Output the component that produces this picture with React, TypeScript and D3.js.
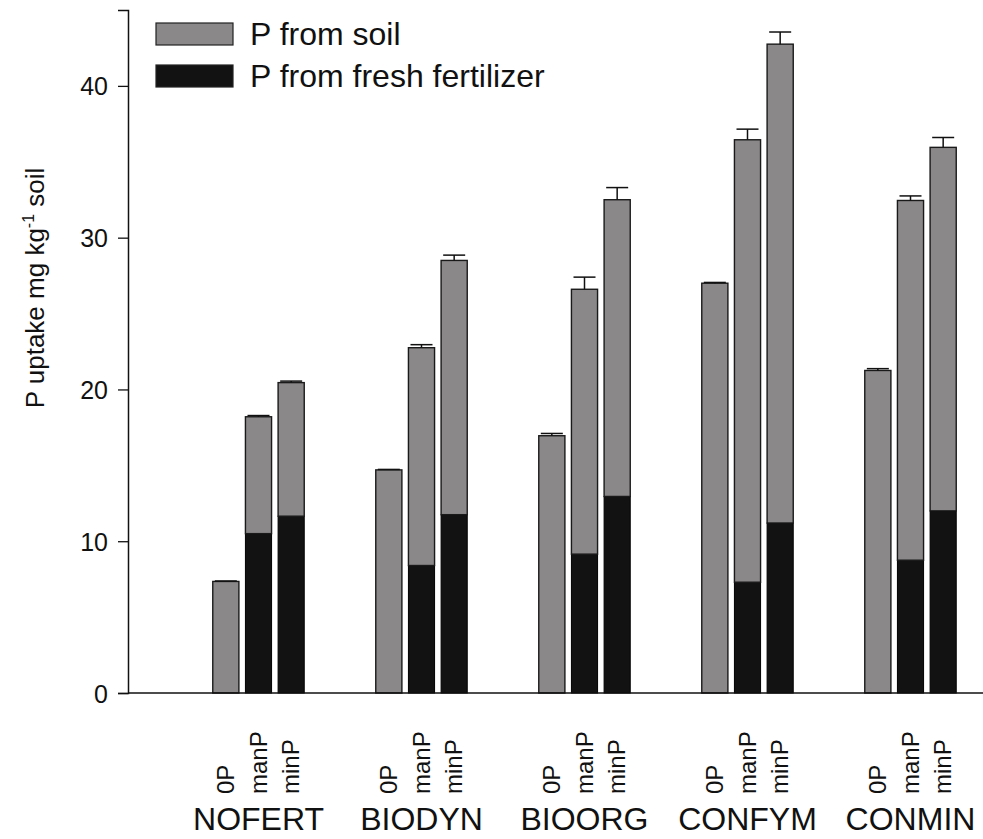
import React, { useEffect, useRef } from 'react';
import * as d3 from 'd3';

const groups = ['NOFERT', 'BIODYN', 'BIOORG', 'CONFYM', 'CONMIN'];
const treatments = ['0P', 'manP', 'minP'];

// P from fresh fertilizer (black, bottom segment), per group: [0P, manP, minP]
const pFresh = [
  [0, 10.5, 11.65],
  [0, 8.4, 11.75],
  [0, 9.15, 12.95],
  [0, 7.3, 11.2],
  [0, 8.75, 12.0],
];

// P from soil (grey, top segment)
const pSoil = [
  [7.35, 7.7, 8.8],
  [14.7, 14.35, 16.75],
  [16.95, 17.45, 19.55],
  [27.0, 29.15, 31.55],
  [21.25, 23.7, 23.95],
];

// standard error on the total
const errTotal = [
  [0.03, 0.08, 0.1],
  [0.03, 0.2, 0.35],
  [0.15, 0.8, 0.8],
  [0.05, 0.7, 0.8],
  [0.12, 0.3, 0.65],
];

const yTicks = [0, 10, 20, 30, 40];

const App: React.FC = () => {
  const chartRef = useRef<SVGSVGElement>(null);

  useEffect(() => {
    const svg = d3.select(chartRef.current!);
    svg.selectAll('*').remove();

    const font = "'Liberation Sans', Arial, Helvetica, sans-serif";
    const greyFill = '#8b8889';
    const blackFill = '#121212';
    const ink = '#111';

    const left = 128;
    const right = 983;
    const bottom = 693;

    const y = d3.scaleLinear().domain([0, 45]).range([bottom, 10]);
    const x0 = d3.scaleBand<string>().domain(groups).range([177, 992]);
    const x1 = d3
      .scaleBand<string>()
      .domain(treatments)
      .range([32.5, 130.5])
      .paddingInner(0.2)
      .paddingOuter(0.1);
    const bw = x1.bandwidth();

    const rows = groups.flatMap((g, gi) =>
      treatments.map((t, ti) => ({
        g,
        t,
        fresh: pFresh[gi][ti],
        soil: pSoil[gi][ti],
        err: errTotal[gi][ti],
      }))
    );
    const bx = (d: { g: string; t: string }) => x0(d.g)! + x1(d.t)!;

    // bars
    const bars = svg.append('g');
    bars
      .selectAll('rect.fresh')
      .data(rows.filter((d) => d.fresh > 0))
      .enter()
      .append('rect')
      .attr('class', 'fresh')
      .attr('x', bx)
      .attr('y', (d) => y(d.fresh))
      .attr('width', bw)
      .attr('height', (d) => y(0) - y(d.fresh))
      .attr('fill', blackFill)
      .attr('stroke', '#000')
      .attr('stroke-width', 1);

    bars
      .selectAll('rect.soil')
      .data(rows)
      .enter()
      .append('rect')
      .attr('class', 'soil')
      .attr('x', bx)
      .attr('y', (d) => y(d.fresh + d.soil))
      .attr('width', bw)
      .attr('height', (d) => y(d.fresh) - y(d.fresh + d.soil))
      .attr('fill', greyFill)
      .attr('stroke', '#1a1a1a')
      .attr('stroke-width', 1.4);

    // error bars (upper only)
    const eb = svg.append('g').attr('stroke', ink).attr('stroke-width', 1.5);
    eb.selectAll('line.v')
      .data(rows)
      .enter()
      .append('line')
      .attr('x1', (d) => bx(d) + bw / 2)
      .attr('x2', (d) => bx(d) + bw / 2)
      .attr('y1', (d) => y(d.fresh + d.soil))
      .attr('y2', (d) => y(d.fresh + d.soil + d.err));
    eb.selectAll('line.cap')
      .data(rows)
      .enter()
      .append('line')
      .attr('x1', (d) => bx(d) + bw / 2 - 11)
      .attr('x2', (d) => bx(d) + bw / 2 + 11)
      .attr('y1', (d) => y(d.fresh + d.soil + d.err))
      .attr('y2', (d) => y(d.fresh + d.soil + d.err));

    // y axis
    const yAxis = svg
      .append('g')
      .attr('transform', `translate(${left},0)`)
      .call(d3.axisLeft(y).tickValues(yTicks).tickSize(10).tickPadding(10));
    yAxis.select('.domain').attr('stroke', ink).attr('stroke-width', 1.5);
    yAxis.selectAll('.tick line').attr('stroke', ink).attr('stroke-width', 1.3);
    yAxis
      .selectAll('.tick text')
      .attr('dy', '0.36em')
      .attr('font-family', font)
      .attr('font-size', 25)
      .attr('fill', ink);

    // x axis line
    svg
      .append('line')
      .attr('x1', left)
      .attr('x2', right)
      .attr('y1', bottom)
      .attr('y2', bottom)
      .attr('stroke', ink)
      .attr('stroke-width', 1.5);

    // treatment labels, rotated
    svg
      .append('g')
      .selectAll('text')
      .data(rows)
      .enter()
      .append('text')
      .attr('transform', (d) => `translate(${bx(d) + bw / 2 + 8},794) rotate(-90)`)
      .attr('font-family', font)
      .attr('font-size', 24)
      .attr('fill', ink)
      .text((d) => d.t);

    // group labels
    svg
      .append('g')
      .selectAll('text')
      .data(groups)
      .enter()
      .append('text')
      .attr('x', (g) => x0(g)! + x0.bandwidth() / 2)
      .attr('y', 830)
      .attr('text-anchor', 'middle')
      .attr('font-family', font)
      .attr('font-size', 32)
      .attr('fill', ink)
      .text((g) => g);

    // y axis title
    const yt = svg
      .append('text')
      .attr('transform', 'translate(44,288) rotate(-90)')
      .attr('text-anchor', 'middle')
      .attr('font-family', font)
      .attr('font-size', 26)
      .attr('fill', ink);
    yt.append('tspan').text('P uptake mg kg');
    yt.append('tspan').attr('dy', -10).attr('font-size', 16).text('-1');
    yt.append('tspan').attr('dy', 10).text(' soil');

    // legend
    const legend = [
      { label: 'P from soil', fill: greyFill },
      { label: 'P from fresh fertilizer', fill: blackFill },
    ];
    const lg = svg
      .append('g')
      .selectAll('g')
      .data(legend)
      .enter()
      .append('g')
      .attr('transform', (_, i) => `translate(156,${23 + i * 42})`);
    lg.append('rect')
      .attr('width', 77)
      .attr('height', 22)
      .attr('fill', (d) => d.fill)
      .attr('stroke', '#222')
      .attr('stroke-width', 1.2);
    lg.append('text')
      .attr('x', 94)
      .attr('y', 22)
      .attr('font-family', font)
      .attr('font-size', 32)
      .attr('fill', ink)
      .text((d) => d.label);
  }, []);

  return (
    <svg
      ref={chartRef}
      width={983}
      height={839}
      style={{ position: 'absolute', left: 0, top: 0, background: '#fff' }}
    />
  );
};

export default App;
